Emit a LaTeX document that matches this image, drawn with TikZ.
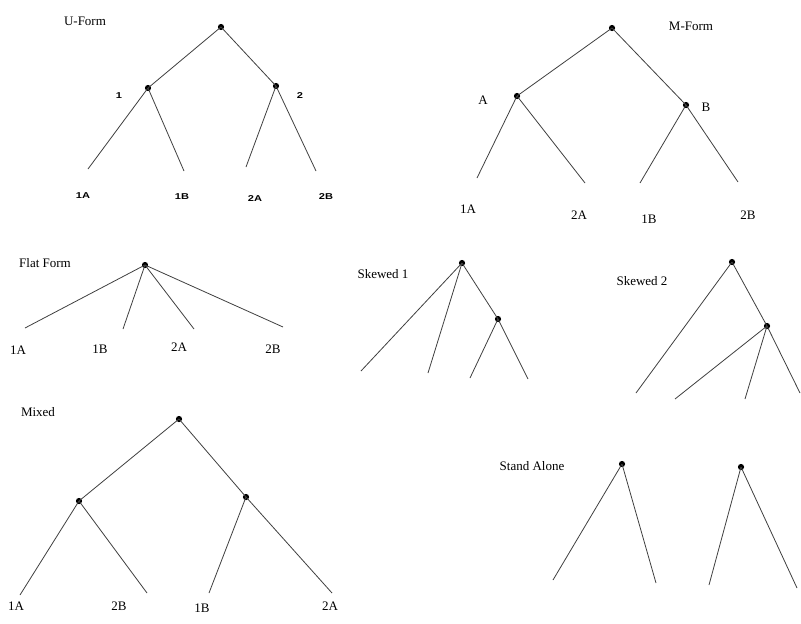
\documentclass[tikz,border=0pt]{standalone}
\usepackage{fontspec}
\setmainfont{Liberation Serif}
\newfontfamily\lblsans{Liberation Sans}
\begin{document}
\begin{tikzpicture}[x=1pt,y=-1pt,
  dot/.style={circle,fill=black,inner sep=0pt,minimum size=6.2pt},
  br/.style={draw=black!75,line width=0.8pt},
  lbl/.style={font=\fontsize{13}{13}\selectfont,inner sep=0pt,anchor=center},
  sml/.style={font=\lblsans\bfseries\fontsize{8.5}{8.5}\selectfont,inner sep=0pt,anchor=center}]
\useasboundingbox[fill=white] (0,0) rectangle (801,624);

% ---------- U-Form ----------
\node[lbl] (uT) at (85,21) {U-Form};
\node[dot] (uR) at (221,27) {};
\node[dot] (u1) at (148,88) {};
\node[dot] (u2) at (276,86) {};
\coordinate (u1A) at (88,169);
\coordinate (u1B) at (184,171);
\coordinate (u2A) at (246,167);
\coordinate (u2B) at (316,171);
\draw[br] (uR.center) -- (u1.center);
\draw[br] (uR.center) -- (u2.center);
\draw[br] (u1.center) -- (u1A);
\draw[br] (u1.center) -- (u1B);
\draw[br] (u2.center) -- (u2A);
\draw[br] (u2.center) -- (u2B);
\node[sml] (ul1) at (119,96) {\scalebox{1.3}[1]{1}};
\node[sml] (ul2) at (300,96) {\scalebox{1.3}[1]{2}};
\node[sml] (ul1A) at (83,196) {\scalebox{1.3}[1]{1A}};
\node[sml] (ul1B) at (182,197) {\scalebox{1.3}[1]{1B}};
\node[sml] (ul2A) at (255,199) {\scalebox{1.3}[1]{2A}};
\node[sml] (ul2B) at (326,197) {\scalebox{1.3}[1]{2B}};

% ---------- M-Form ----------
\node[lbl] (mT) at (691,26) {M-Form};
\node[dot] (mR) at (612,28) {};
\node[dot] (mA) at (517,96) {};
\node[dot] (mB) at (686,105) {};
\coordinate (m1) at (477,178);
\coordinate (m2) at (585,183);
\coordinate (m3) at (640,183);
\coordinate (m4) at (738,182);
\draw[br] (mR.center) -- (mA.center);
\draw[br] (mR.center) -- (mB.center);
\draw[br] (mA.center) -- (m1);
\draw[br] (mA.center) -- (m2);
\draw[br] (mB.center) -- (m3);
\draw[br] (mB.center) -- (m4);
\node[lbl] (mlA) at (483,100) {A};
\node[lbl] (mlB) at (706,107) {B};
\node[lbl] (ml1A) at (468,209) {1A};
\node[lbl] (ml2A) at (579,215) {2A};
\node[lbl] (ml1B) at (649,219) {1B};
\node[lbl] (ml2B) at (748,215) {2B};

% ---------- Flat Form ----------
\node[lbl] (fT) at (45,263) {Flat Form};
\node[dot] (fR) at (145,265) {};
\coordinate (f1) at (25,328);
\coordinate (f2) at (123,329);
\coordinate (f3) at (194,329);
\coordinate (f4) at (283,327);
\draw[br] (fR.center) -- (f1);
\draw[br] (fR.center) -- (f2);
\draw[br] (fR.center) -- (f3);
\draw[br] (fR.center) -- (f4);
\node[lbl] (fl1A) at (18,350) {1A};
\node[lbl] (fl1B) at (100,349) {1B};
\node[lbl] (fl2A) at (179,347) {2A};
\node[lbl] (fl2B) at (273,349) {2B};

% ---------- Skewed 1 ----------
\node[lbl] (s1T) at (383,274) {Skewed 1};
\node[dot] (s1R) at (462,263) {};
\node[dot] (s1C) at (498,319) {};
\coordinate (s1a) at (361,371);
\coordinate (s1b) at (428,373);
\coordinate (s1c) at (470,378);
\coordinate (s1d) at (528,379);
\draw[br] (s1R.center) -- (s1a);
\draw[br] (s1R.center) -- (s1b);
\draw[br] (s1R.center) -- (s1C.center);
\draw[br] (s1C.center) -- (s1c);
\draw[br] (s1C.center) -- (s1d);

% ---------- Skewed 2 ----------
\node[lbl] (s2T) at (642,281) {Skewed 2};
\node[dot] (s2R) at (732,262) {};
\node[dot] (s2C) at (767,326) {};
\coordinate (s2a) at (636,393);
\coordinate (s2b) at (675,399);
\coordinate (s2c) at (745,399);
\coordinate (s2d) at (800,393);
\draw[br] (s2R.center) -- (s2a);
\draw[br] (s2R.center) -- (s2C.center);
\draw[br] (s2C.center) -- (s2b);
\draw[br] (s2C.center) -- (s2c);
\draw[br] (s2C.center) -- (s2d);

% ---------- Mixed ----------
\node[lbl] (xT) at (38,412) {Mixed};
\node[dot] (xR) at (179,419) {};
\node[dot] (xL) at (79,501) {};
\node[dot] (xRc) at (246,497) {};
\coordinate (x1) at (20,595);
\coordinate (x2) at (147,593);
\coordinate (x3) at (209,593);
\coordinate (x4) at (332,593);
\draw[br] (xR.center) -- (xL.center);
\draw[br] (xR.center) -- (xRc.center);
\draw[br] (xL.center) -- (x1);
\draw[br] (xL.center) -- (x2);
\draw[br] (xRc.center) -- (x3);
\draw[br] (xRc.center) -- (x4);
\node[lbl] (xl1A) at (16,606) {1A};
\node[lbl] (xl2B) at (119,606) {2B};
\node[lbl] (xl1B) at (202,608) {1B};
\node[lbl] (xl2A) at (330,606) {2A};

% ---------- Stand Alone ----------
\node[lbl] (aT) at (532,466) {Stand Alone};
\node[dot] (a1) at (622,464) {};
\node[dot] (a2) at (741,467) {};
\coordinate (a1l) at (553,580);
\coordinate (a1r) at (656,583);
\coordinate (a2l) at (709,585);
\coordinate (a2r) at (797,588);
\draw[br] (a1.center) -- (a1l);
\draw[br] (a1.center) -- (a1r);
\draw[br] (a2.center) -- (a2l);
\draw[br] (a2.center) -- (a2r);
\end{tikzpicture}
\end{document}
